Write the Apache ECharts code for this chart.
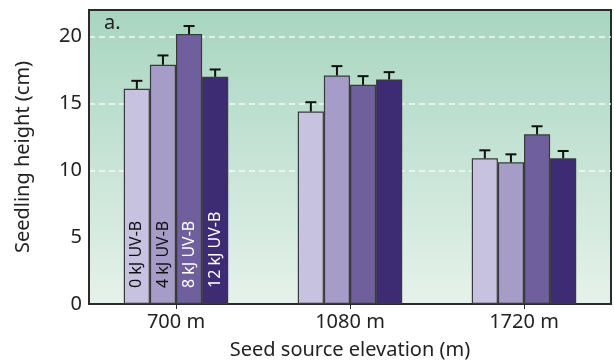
<!DOCTYPE html>
<html><head><meta charset="utf-8">
<script src="https://cdn.jsdelivr.net/npm/echarts@6/dist/echarts.min.js"></script>
<style>html,body{margin:0;padding:0;background:#fff}#c{width:614px;height:362px}</style>
</head><body><div id="c"></div>
<script>
const categories = ['700 m', '1080 m', '1720 m'];
const seriesNames = ['0 kJ UV-B', '4 kJ UV-B', '8 kJ UV-B', '12 kJ UV-B'];
const uv0 = [16.1, 14.4, 10.9];
const uv4 = [17.9, 17.1, 10.6];
const uv8 = [20.2, 16.4, 12.7];
const uv12 = [17.0, 16.8, 10.9];
const err0 = [0.6, 0.7, 0.6];
const err4 = [0.7, 0.7, 0.6];
const err8 = [0.6, 0.65, 0.6];
const err12 = [0.55, 0.55, 0.55];
const yTicks = [0, 5, 10, 15, 20];

const values = [uv0, uv4, uv8, uv12];
const errs = [err0, err4, err8, err12];
const barColors = ['#c6c2e0', '#a59dc7', '#6f609d', '#3d2c74'];
const labelColors = ['#111', '#111', '#fff', '#fff'];
const FONT = 'Noto Sans';
const FS = 20;
const W = 'rgba(255,255,255,0.85)', T = 'rgba(255,255,255,0)';

const chart = echarts.init(document.getElementById('c'));
const series = [];
values.forEach((v, i) => {
  series.push({
    name: seriesNames[i], type: 'bar', barGap: 0, barCategoryGap: '40%',
    data: v.map((val, j) => j === 0 ? val : { value: val, label: { show: false } }),
    itemStyle: { color: barColors[i], borderColor: '#3a3a3a', borderWidth: 1.2 },
    label: {
      show: true, formatter: () => seriesNames[i], position: 'insideBottom',
      rotate: 90, align: 'left', verticalAlign: 'middle', distance: 16,
      color: labelColors[i], fontSize: 16, fontFamily: FONT
    },
    z: 2
  });
});
values.forEach((v, i) => {
  series.push({
    type: 'custom', z: 3,
    data: v.map((val, j) => [j, val, val + errs[i][j]]),
    renderItem: (params, api) => {
      const band = api.size([1, 0])[0];
      const bw = band * 0.6 / 4;
      const c0 = api.coord([api.value(0), api.value(1)]);
      const c1 = api.coord([api.value(0), api.value(2)]);
      const x = c0[0] + (-1.5 + i) * bw;
      const capHalf = 5.5;
      return {
        type: 'group', children: [
          { type: 'line', shape: { x1: x, y1: c0[1], x2: x, y2: c1[1] }, style: { stroke: '#111', lineWidth: 2 } },
          { type: 'line', shape: { x1: x - capHalf, y1: c1[1], x2: x + capHalf, y2: c1[1] }, style: { stroke: '#111', lineWidth: 2 } }
        ]
      };
    }
  });
});

chart.setOption({
  animation: false,
  textStyle: { fontFamily: FONT },
  grid: {
    left: 89, right: 3, top: 10, bottom: 58, show: true, borderWidth: 2, borderColor: '#2b2b2b',
    outerBoundsMode: 'none', containLabel: false,
    backgroundColor: { type: 'linear', x: 0, y: 0, x2: 0, y2: 1,
      colorStops: [{ offset: 0, color: '#a7d5c0' }, { offset: 1, color: '#e6f2eb' }] }
  },
  xAxis: {
    type: 'category', data: categories,
    name: 'Seed source elevation (m)', nameLocation: 'middle', nameGap: 36,
    nameTextStyle: { fontSize: FS, color: '#222', fontFamily: FONT },
    axisLine: { lineStyle: { color: '#2b2b2b', width: 2 } },
    axisTick: { show: true, alignWithLabel: true, length: 5, lineStyle: { color: '#2b2b2b' } },
    axisLabel: { fontSize: FS, color: '#222', margin: 8, fontFamily: FONT }
  },
  yAxis: {
    type: 'value', min: 0, max: 22, interval: 5,
    name: 'Seedling height (cm)', nameLocation: 'middle', nameGap: 56,
    nameTextStyle: { fontSize: FS, color: '#222', fontFamily: FONT },
    axisLine: { show: true, lineStyle: { color: '#2b2b2b', width: 2 } },
    axisTick: { show: false },
    axisLabel: { fontSize: FS, color: '#222', margin: 7, fontFamily: FONT,
      formatter: v => yTicks.includes(v) ? String(v) : '' },
    splitLine: { showMaxLine: false, showMinLine: false,
      lineStyle: { color: [T, W, W, W, W, T], type: [6, 4], width: 1.5 } }
  },
  graphic: [{ type: 'text', left: 104, top: 13, z: 10, style: { text: 'a.', fontSize: FS, fill: '#222', fontFamily: FONT } }],
  series: series
});
</script></body></html>
